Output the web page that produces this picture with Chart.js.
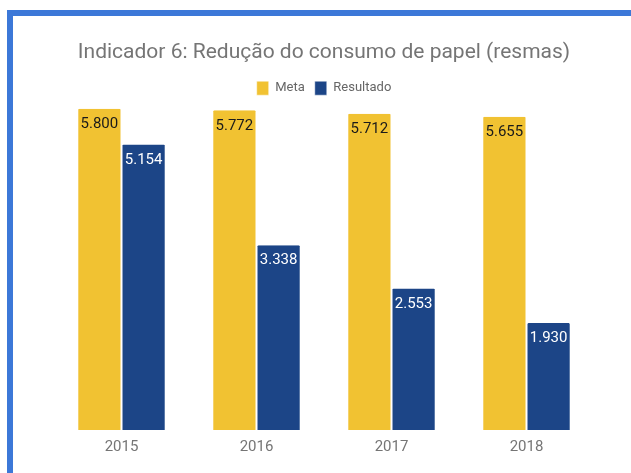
<!DOCTYPE html>
<html>
<head>
<meta charset="utf-8">
<script src="https://cdn.jsdelivr.net/npm/chart.js@4.4.1/dist/chart.umd.min.js"></script>
<style>
  html, body { margin: 0; padding: 0; background: #fff; }
  body { width: 631px; height: 473px; position: relative; overflow: hidden; }
  #frame { position: absolute; left: 7px; top: 10px; width: 624px; height: 463px;
           border-top: 6px solid #3c78d8; border-left: 6px solid #3c78d8; box-sizing: border-box; }
  #wrap { position: absolute; left: 13px; top: 16px; width: 618px; height: 457px; }
</style>
</head>
<body>
<div id="frame"></div>
<div id="wrap"><canvas id="c"></canvas></div>
<script>
const categories = ['2015', '2016', '2017', '2018'];
const metaValues = [5800, 5772, 5712, 5655];
const resultadoValues = [5154, 3338, 2553, 1930];
const seriesNames = ['Meta', 'Resultado'];
const seriesColors = ['#f1c232', '#1c4587'];
const labelColors = ['#1a1a1a', '#ffffff'];
const titleText = 'Indicador 6: Redução do consumo de papel (resmas)';

function fmt(v) {
  const s = String(Math.round(v));
  return s.replace(/\B(?=(\d{3})+(?!\d))/g, '.');
}

const insideLabels = {
  id: 'insideLabels',
  afterDatasetsDraw(chart) {
    const ctx = chart.ctx;
    ctx.save();
    ctx.font = '15px Roboto';
    ctx.textAlign = 'center';
    ctx.textBaseline = 'middle';
    chart.data.datasets.forEach((ds, di) => {
      const meta = chart.getDatasetMeta(di);
      meta.data.forEach((bar, i) => {
        ctx.fillStyle = labelColors[di];
        ctx.fillText(fmt(ds.data[i]), bar.x, bar.y + 15.5);
      });
    });
    ctx.restore();
  }
};

new Chart(document.getElementById('c'), {
  type: 'bar',
  data: {
    labels: categories,
    datasets: [
      { label: seriesNames[0], data: metaValues, backgroundColor: seriesColors[0],
        borderColor: '#ffffff', borderWidth: {left: 1, right: 1, top: 0, bottom: 0}, borderRadius: 2, borderSkipped: 'bottom' },
      { label: seriesNames[1], data: resultadoValues, backgroundColor: seriesColors[1],
        borderColor: '#ffffff', borderWidth: {left: 1, right: 1, top: 0, bottom: 0}, borderRadius: 2, borderSkipped: 'bottom' }
    ]
  },
  options: {
    responsive: true,
    maintainAspectRatio: false,
    animation: false,
    layout: { padding: { left: 41, right: 37, top: 24, bottom: 17 } },
    datasets: { bar: { categoryPercentage: 0.655, barPercentage: 1.0 } },
    plugins: {
      title: {
        display: true,
        text: titleText,
        color: '#757575',
        font: { family: 'Roboto', size: 21, weight: 'normal' },
        padding: { top: 0, bottom: 6 }
      },
      legend: {
        display: true,
        labels: { boxWidth: 12, boxHeight: 14, color: '#666666', padding: 10,
                  font: { family: 'Roboto', size: 13 } }
      },
      tooltip: { enabled: false }
    },
    scales: {
      x: {
        grid: { display: false },
        border: { display: false },
        ticks: { color: '#757575', font: { family: 'Roboto', size: 15 }, padding: 0 }
      },
      y: { display: false, min: 0, max: 5865 }
    }
  },
  plugins: [insideLabels]
});
</script>
</body>
</html>
